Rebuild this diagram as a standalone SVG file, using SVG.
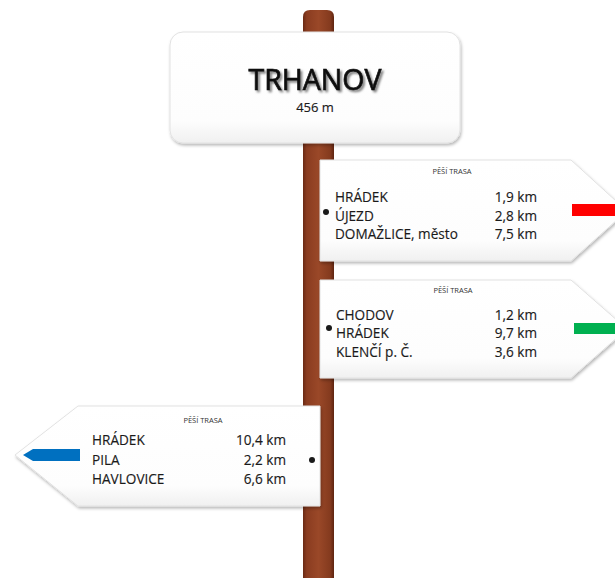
<svg xmlns="http://www.w3.org/2000/svg" width="615" height="578" viewBox="0 0 615 578">
<defs>
<linearGradient id="wood" x1="0" y1="0" x2="1" y2="0">
<stop offset="0" stop-color="#6a2a14"/>
<stop offset="0.12" stop-color="#8a3c20"/>
<stop offset="0.5" stop-color="#9a4828"/>
<stop offset="0.88" stop-color="#843a1e"/>
<stop offset="1" stop-color="#5e2410"/>
</linearGradient>
<linearGradient id="board" x1="0" y1="0" x2="0" y2="1">
<stop offset="0" stop-color="#ffffff"/>
<stop offset="0.8" stop-color="#fdfdfd"/>
<stop offset="1" stop-color="#f0f0f0"/>
</linearGradient>
<filter id="shadow" x="-10%" y="-10%" width="120%" height="130%">
<feDropShadow dx="1" dy="2" stdDeviation="1.5" flood-color="#000" flood-opacity="0.28"/>
</filter>
<filter id="tshadow" x="-10%" y="-30%" width="120%" height="160%">
<feDropShadow dx="2" dy="2" stdDeviation="1.2" flood-color="#000" flood-opacity="0.5"/>
</filter>
</defs>
<style>
.board{fill:url(#board);stroke:#e2e2e2;stroke-width:1;filter:url(#shadow)}
.t{font-family:"Open Sans","Liberation Sans",sans-serif;fill:#1a1a1a;font-size:13.6px;stroke:#1a1a1a;stroke-width:0.15}
.r{text-anchor:end}
.h{font-family:"Open Sans","Liberation Sans",sans-serif;fill:#333;font-size:7.5px;text-anchor:middle}
.title{font-family:"Open Sans","Liberation Sans",sans-serif;font-size:28.5px;text-anchor:middle}
.dot{fill:#1a1a1a}
</style>
<rect width="615" height="578" fill="#ffffff"/>
<g id="pole">
<path d="M303,578 V17 Q303,10 310,10 H327 Q334,10 334,17 V578 Z" fill="url(#wood)"/>
</g>
<g id="sign-top">
<rect class="board" x="170" y="32" width="290" height="111" rx="13"/>
<text class="title" x="315" y="89.5" fill="#111" stroke="#111" stroke-width="0.7" filter="url(#tshadow)">TRHANOV</text>
<text x="315" y="112" font-family="Open Sans, Liberation Sans, sans-serif" font-size="13" text-anchor="middle" fill="#1a1a1a" stroke="#1a1a1a" stroke-width="0.15">456 m</text>
</g>
<g id="sign-red">
<polygon class="board" points="320,160 571,160 627,211 571,261 320,261"/>
<rect x="572" y="204" width="45" height="12" fill="#ff0000"/>
<circle class="dot" cx="326" cy="212" r="3"/>
<text class="h" x="452" y="174">PĚŠÍ TRASA</text>
<text class="t" x="335" y="202">HRÁDEK</text>
<text class="t" x="335" y="221">ÚJEZD</text>
<text class="t" x="335" y="239">DOMAŽLICE, město</text>
<text class="t r" x="537" y="202">1,9 km</text>
<text class="t r" x="537" y="221">2,8 km</text>
<text class="t r" x="537" y="239">7,5 km</text>
</g>
<g id="sign-green">
<polygon class="board" points="320,280 571,280 627,329 571,378 320,378"/>
<rect x="574" y="323" width="43" height="11" fill="#00b050"/>
<circle class="dot" cx="329" cy="328" r="3"/>
<text class="h" x="453" y="293">PĚŠÍ TRASA</text>
<text class="t" x="336" y="320">CHODOV</text>
<text class="t" x="336" y="338">HRÁDEK</text>
<text class="t" x="336" y="357">KLENČÍ p. Č.</text>
<text class="t r" x="537" y="320">1,2 km</text>
<text class="t r" x="537" y="338">9,7 km</text>
<text class="t r" x="537" y="357">3,6 km</text>
</g>
<g id="sign-blue">
<polygon class="board" points="320,406 78,406 15,455 78,506 320,506"/>
<polygon points="23,455 33,449 80,449 80,461 33,461" fill="#0070c0"/>
<circle class="dot" cx="312" cy="460" r="3"/>
<text class="h" x="203" y="423">PĚŠÍ TRASA</text>
<text class="t" x="92" y="445">HRÁDEK</text>
<text class="t" x="92" y="465">PILA</text>
<text class="t" x="92" y="484">HAVLOVICE</text>
<text class="t r" x="286" y="445">10,4 km</text>
<text class="t r" x="286" y="465">2,2 km</text>
<text class="t r" x="286" y="484">6,6 km</text>
</g>
</svg>
